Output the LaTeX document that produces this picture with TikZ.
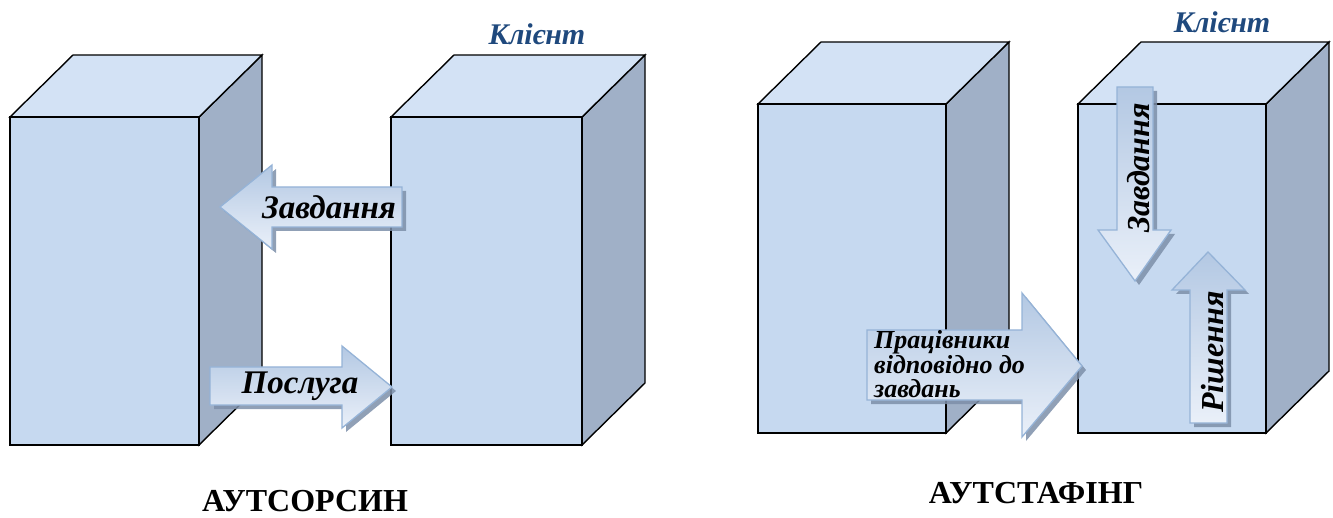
\documentclass[tikz,border=0pt]{standalone}
\usepackage{fontspec}
\setmainfont{Liberation Serif}
\usetikzlibrary{calc}

\definecolor{frontblue}{HTML}{C6D9F0}
\definecolor{topblue}{HTML}{D3E2F5}
\definecolor{sidegray}{HTML}{A0B0C7}
\definecolor{arrowedge}{HTML}{95B3D7}
\definecolor{arrowdark}{HTML}{B3C8E3}
\definecolor{arrowlight}{HTML}{EAF0F9}
\definecolor{arrowshadow}{HTML}{7D8FA9}
\definecolor{clientblue}{HTML}{1F497D}

\tikzset{
  edge/.style={draw=black, line width=1.4pt, line join=miter},
  frontface/.style={edge, fill=frontblue},
  topface/.style={edge, fill=topblue},
  sideface/.style={edge, fill=sidegray},
  blockarrow/.style={draw=arrowedge, line width=1.3pt, line join=miter,
    top color=arrowdark, bottom color=arrowlight},
  arrowshade/.style={fill=arrowshadow, opacity=0.85},
  lbl/.style={font=\bfseries\itshape\fontsize{33}{35}\selectfont, inner sep=0pt},
  vlbl/.style={font=\bfseries\itshape\fontsize{32}{34}\selectfont, inner sep=0pt,
    rotate=90},
  smalllbl/.style={font=\bfseries\itshape\fontsize{26}{24}\selectfont,
    inner sep=0pt, align=left},
  client/.style={font=\bfseries\itshape\fontsize{30}{32}\selectfont,
    text=clientblue, inner sep=0pt, anchor=base},
  heading/.style={font=\bfseries\fontsize{32}{34}\selectfont, inner sep=0pt,
    anchor=base},
}

% a rectangular prism: name, front-left x, front-top y, front-right x, front-bottom y
\newcommand\prism[5]{%
  \coordinate (#1-a) at (#2,#3);
  \coordinate (#1-b) at (#4,#3);
  \coordinate (#1-c) at (#4,#5);
  \coordinate (#1-d) at (#2,#5);
  \filldraw[sideface] (#1-b) -- ++(63,-62) -- ++(0,#5-#3) -- (#1-c) -- cycle;
  \filldraw[topface] (#1-a) -- ++(63,-62) -- ++(#4-#2,0) -- (#1-b) -- cycle;
  \filldraw[frontface] (#1-a) rectangle (#1-c);
}

\begin{document}
\begin{tikzpicture}[x=1pt, y=-1pt]
\useasboundingbox (0,0) rectangle (1333,518);

% ---- outsourcing ----
\prism{provider}{10}{117}{199}{445}
\prism{customer}{391}{117}{582}{445}
\node[client] (client1) at (537,45) {Клієнт};

% task arrow, pointing left
\fill[arrowshade, shift={(4,4)}] (220,207) -- (272,165) -- (272,187) -- (402,187)
  -- (402,227) -- (272,227) -- (272,249) -- cycle;
\path[blockarrow] (220,207) -- (272,165) -- (272,187) -- (402,187)
  -- (402,227) -- (272,227) -- (272,249) -- cycle;
\node[lbl] (task1) at (329,207) {Завдання};

% service arrow, pointing right
\fill[arrowshade, shift={(4,4)}] (210,367) -- (342,367) -- (342,346) -- (392,387)
  -- (342,428) -- (342,405) -- (210,405) -- cycle;
\path[blockarrow] (210,367) -- (342,367) -- (342,346) -- (392,387)
  -- (342,428) -- (342,405) -- (210,405) -- cycle;
\node[lbl] (service) at (300,386) {Послуга};

\node[heading] (title1) at (305,511) {АУТСОРСИН};

% ---- outstaffing ----
\prism{agency}{758}{104}{946}{433}
\prism{host}{1078}{104}{1266}{433}
\node[client] (client2) at (1222,33) {Клієнт};

% staff arrow, pointing right
\fill[arrowshade, shift={(4,4)}] (867,330) -- (1022,330) -- (1022,293) -- (1082,366)
  -- (1022,437) -- (1022,400) -- (867,400) -- cycle;
\path[blockarrow] (867,330) -- (1022,330) -- (1022,293) -- (1082,366)
  -- (1022,437) -- (1022,400) -- (867,400) -- cycle;
\node[smalllbl, anchor=base west] (staff) at (874,397)
  {Працівники\\відповідно до\\завдань};

% task arrow, pointing down
\fill[arrowshade, shift={(4,4)}] (1117,87) -- (1153,87) -- (1153,230) -- (1171,230)
  -- (1135,281) -- (1098,230) -- (1117,230) -- cycle;
\path[blockarrow] (1117,87) -- (1153,87) -- (1153,230) -- (1171,230)
  -- (1135,281) -- (1098,230) -- (1117,230) -- cycle;
\node[vlbl] (task2) at (1139,168) {Завдання};

% solution arrow, pointing up
\fill[arrowshade, shift={(4,4)}] (1190,423) -- (1190,290) -- (1172,290) -- (1208,252)
  -- (1245,290) -- (1227,290) -- (1227,423) -- cycle;
\path[blockarrow] (1190,423) -- (1190,290) -- (1172,290) -- (1208,252)
  -- (1245,290) -- (1227,290) -- (1227,423) -- cycle;
\node[vlbl] (solution) at (1213,352) {Рішення};

\node[heading] (title2) at (1036,503) {АУТСТАФІНГ};
\end{tikzpicture}
\end{document}
